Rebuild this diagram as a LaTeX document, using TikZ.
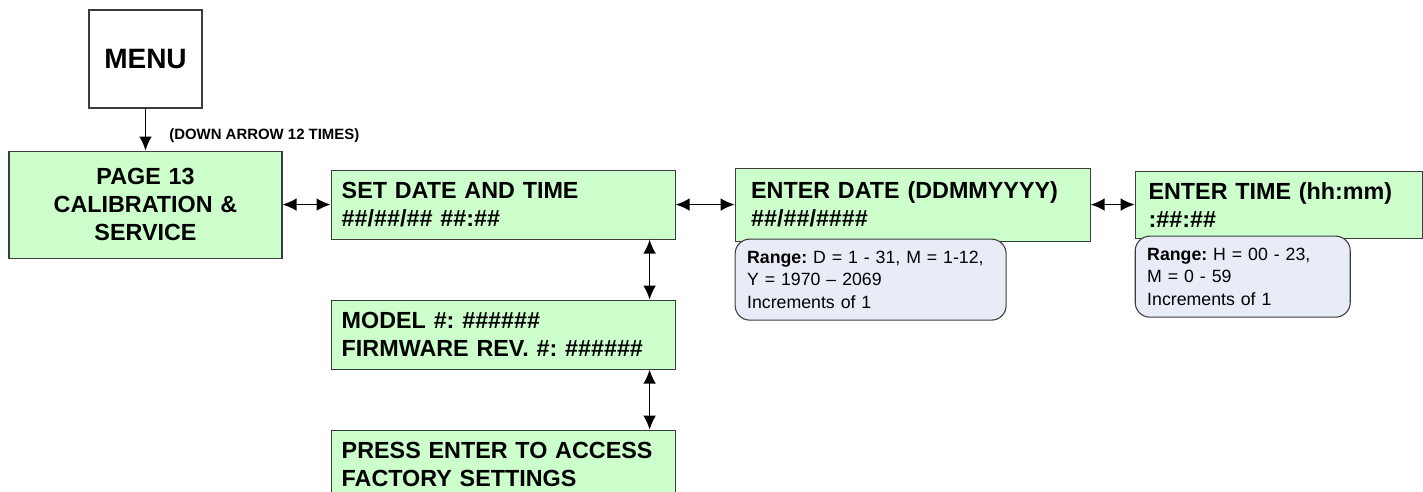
\documentclass[tikz,border=0pt]{standalone}
\usepackage{fontspec}
\setmainfont{Liberation Sans}
\usetikzlibrary{positioning,arrows.meta}
\definecolor{LcdGreen}{HTML}{CCFFCC}
\definecolor{RangeBlue}{HTML}{E7ECF7}
\definecolor{EdgeGray}{HTML}{3C3C3C}
\frenchspacing

\tikzset{
  menubox/.style={draw=EdgeGray, line width=0.8pt, fill=white, minimum width=84.75pt, minimum height=73.5pt, font=\fontsize{21}{25}\selectfont\bfseries},
  screen/.style={draw=EdgeGray, line width=0.8pt, fill=LcdGreen, align=left, inner ysep=0pt, font=\fontsize{17.5}{21}\selectfont\bfseries},
  rangebox/.style={draw=EdgeGray, line width=0.8pt, fill=RangeBlue, rounded corners=11pt, align=left, inner xsep=9pt, inner ysep=0pt, minimum height=60.75pt, anchor=north west, font=\fontsize{13.3}{16.8}\selectfont},
  nav/.style={{Latex[length=10.5pt,width=9.5pt]}-{Latex[length=10.5pt,width=9.5pt]}, line width=1.1pt},
}

\begin{document}
\begin{tikzpicture}[x=0.75pt, y=-0.75pt]
\useasboundingbox (0,0) rectangle (1423,492);
\clip (0,0) rectangle (1423,492);
\node[menubox] (menu) at (145.5,59) {MENU};
\node[screen, align=center, text width=188.75pt, inner xsep=8pt, minimum height=80.25pt, below=31.5pt of menu] (page) {PAGE 13\\CALIBRATION \&\\SERVICE};
\node[screen, text width=242pt, inner xsep=8pt, minimum height=51.75pt, right=36pt of page] (set) {SET DATE AND TIME\\\#\#/\#\#/\#\# \#\#:\#\#};
\node[screen, text width=242pt, inner xsep=8pt, minimum height=51.75pt, below=45pt of set] (model) {MODEL \#: \#\#\#\#\#\#\\FIRMWARE REV. \#: \#\#\#\#\#\#};
\node[screen, text width=242pt, inner xsep=8pt, minimum height=51.75pt, below=45pt of model] (press) {PRESS ENTER TO ACCESS\\FACTORY SETTINGS};
\node[screen, text width=242.25pt, inner xsep=12pt, minimum height=54.75pt, right=44.25pt of set] (date) {ENTER DATE (DDMMYYYY)\\\#\#/\#\#/\#\#\#\#};
\node[screen, text width=195.25pt, inner xsep=10pt, minimum height=50.25pt, right=33pt of date] (time) {ENTER TIME (hh:mm)\\:\#\#:\#\#};
\node[rangebox, text width=185.25pt] (daterange) at ([yshift=2.25pt]date.south west) {\textbf{Range:} D = 1 - 31, M = 1-12,\\Y = 1970 – 2069\\Increments of 1};
\node[rangebox, text width=143.25pt] (timerange) at ([yshift=2.25pt]time.south west) {\textbf{Range:} H = 00 - 23,\\M = 0 - 59\\Increments of 1};

\draw[-{Latex[length=10.5pt,width=9.5pt]}, line width=1.1pt] (menu) -- node[pos=0.65, anchor=west, xshift=14pt, font=\fontsize{11.2}{13}\selectfont\bfseries] (hint) {(DOWN ARROW 12 TIMES)} (page);
\draw[nav] (page) -- (set);
\draw[nav] (set) -- (date);
\draw[nav] (date) -- (time);
\draw[nav] ([xshift=-19.5pt]set.south east) -- ([xshift=-19.5pt]model.north east);
\draw[nav] ([xshift=-19.5pt]model.south east) -- ([xshift=-19.5pt]press.north east);
\end{tikzpicture}
\end{document}
